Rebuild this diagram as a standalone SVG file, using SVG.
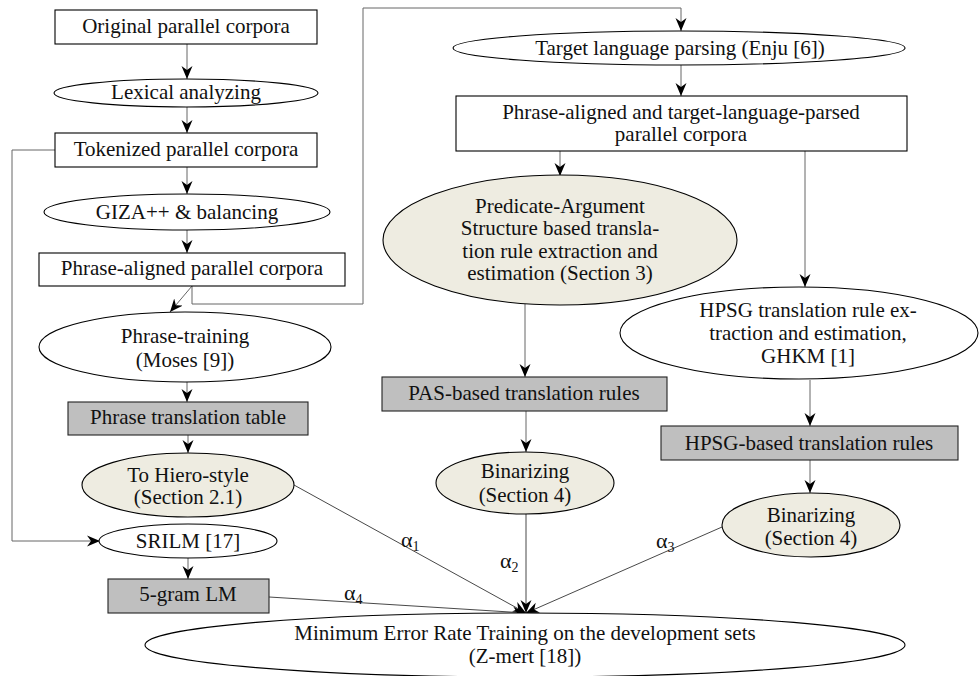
<svg xmlns="http://www.w3.org/2000/svg" width="979" height="676" viewBox="0 0 979 676">
<defs>
<marker id="ah" markerUnits="userSpaceOnUse" markerWidth="14" markerHeight="12" refX="13" refY="6" orient="auto" viewBox="0 0 14 12">
<path d="M0,0.5 L13,6 L0,11.5 L4,6 Z" fill="#000"/>
</marker>
<style>
text{font-family:"Liberation Serif","Times New Roman",serif;font-size:21px;fill:#111;text-anchor:middle}
.w{fill:#fff;stroke:#000;stroke-width:1.1}
.g{fill:#bfbfbf;stroke:#222;stroke-width:1.1}
.b{fill:#eeece1;stroke:#000;stroke-width:1.1}
.c{fill:none;stroke:#666;stroke-width:1}
.d{fill:none;stroke:#333;stroke-width:0.9}
.a{marker-end:url(#ah)}
.al{text-anchor:start;font-size:22px}
.sub{font-size:14px}
</style>
</defs>
<rect width="979" height="676" fill="#fff"/>

<g id="connectors">
<path class="c a" d="M187,44 V79"/>
<path class="c a" d="M187,107 V133"/>
<path class="c a" d="M187,167 V194"/>
<path class="c a" d="M187,230 V253"/>
<path class="c a" d="M192,286 L170,312"/>
<path class="c a" d="M192,286 V304 H363 V8 H681 V31"/>
<path class="c a" d="M187,382 V402"/>
<path class="c a" d="M188,435 V453"/>
<path class="c a" d="M55,150 H12 V541 H100"/>
<path class="c a" d="M188,558 V579"/>
<path class="c a" d="M681,65 V96"/>
<path class="c a" d="M560,151 V176"/>
<path class="c a" d="M805,151 V287"/>
<path class="c a" d="M525,304 V377"/>
<path class="c a" d="M526,411 V452"/>
<path class="c a" d="M810,380 V426"/>
<path class="c a" d="M810,460 V493"/>
<path class="d a" d="M294,485 L526,613"/>
<path class="d a" d="M269,597 L526,613"/>
<path class="d a" d="M526,514 V613"/>
<path class="d a" d="M722,527 L526,613"/>
<text class="al" x="401" y="547">α<tspan class="sub" dy="4">1</tspan></text>
<text class="al" x="500" y="568">α<tspan class="sub" dy="4">2</tspan></text>
<text class="al" x="656" y="548">α<tspan class="sub" dy="4">3</tspan></text>
<text class="al" x="344" y="600">α<tspan class="sub" dy="4">4</tspan></text>
</g>

<g id="original">
<rect class="w" x="55" y="10" width="262" height="34"/>
<text x="186" y="33">Original parallel corpora</text>
</g>
<g id="lexical">
<ellipse class="w" cx="186" cy="93" rx="132" ry="14"/>
<text x="186" y="99">Lexical analyzing</text>
</g>
<g id="tokenized">
<rect class="w" x="55" y="133" width="262" height="34"/>
<text x="186" y="156">Tokenized parallel corpora</text>
</g>
<g id="giza">
<ellipse class="w" cx="187" cy="212" rx="143" ry="18"/>
<text x="187" y="219">GIZA++ &amp; balancing</text>
</g>
<g id="phrase-aligned">
<rect class="w" x="39" y="253" width="306" height="33"/>
<text x="192" y="275">Phrase-aligned parallel corpora</text>
</g>
<g id="phrase-training">
<ellipse class="w" cx="185" cy="347" rx="146" ry="35"/>
<text x="185" y="343">Phrase-training</text>
<text x="185" y="367">(Moses [9])</text>
</g>
<g id="phrase-table">
<rect class="g" x="68" y="402" width="240" height="33"/>
<text x="188" y="424">Phrase translation table</text>
</g>
<g id="hiero">
<ellipse class="b" cx="188" cy="485" rx="106" ry="32"/>
<text x="188" y="482">To Hiero-style</text>
<text x="188" y="504">(Section 2.1)</text>
</g>
<g id="srilm">
<ellipse class="w" cx="188" cy="541" rx="89" ry="17"/>
<text x="188" y="548">SRILM [17]</text>
</g>
<g id="lm">
<rect class="g" x="108" y="579" width="161" height="34"/>
<text x="188" y="601">5-gram LM</text>
</g>
<g id="mert">
<ellipse class="w" cx="525" cy="645" rx="380" ry="32"/>
<text x="525" y="640">Minimum Error Rate Training on the development sets</text>
<text x="525" y="663">(Z-mert [18])</text>
</g>
<g id="target-parsing">
<ellipse class="w" cx="679" cy="48" rx="226" ry="17"/>
<text x="680" y="55">Target language parsing (Enju [6])</text>
</g>
<g id="parsed-corpora">
<rect class="w" x="456" y="96" width="451" height="55"/>
<text x="681" y="119">Phrase-aligned and target-language-parsed</text>
<text x="681" y="141">parallel corpora</text>
</g>
<g id="pas">
<ellipse class="b" cx="560" cy="240" rx="177" ry="65"/>
<text x="560" y="213">Predicate-Argument</text>
<text x="560" y="235">Structure based transla-</text>
<text x="560" y="258">tion rule extraction and</text>
<text x="560" y="280">estimation (Section 3)</text>
</g>
<g id="pas-rules">
<rect class="g" x="382" y="377" width="285" height="34"/>
<text x="524" y="400">PAS-based translation rules</text>
</g>
<g id="bin1">
<ellipse class="b" cx="525" cy="483" rx="89" ry="31"/>
<text x="525" y="478">Binarizing</text>
<text x="525" y="502">(Section 4)</text>
</g>
<g id="hpsg">
<ellipse class="w" cx="799" cy="333" rx="179" ry="46"/>
<text x="808" y="317">HPSG translation rule ex-</text>
<text x="808" y="340">traction and estimation,</text>
<text x="808" y="363">GHKM [1]</text>
</g>
<g id="hpsg-rules">
<rect class="g" x="661" y="426" width="297" height="34"/>
<text x="809" y="450">HPSG-based translation rules</text>
</g>
<g id="bin2">
<ellipse class="b" cx="811" cy="525" rx="89" ry="32"/>
<text x="811" y="522">Binarizing</text>
<text x="811" y="545">(Section 4)</text>
</g>
</svg>
